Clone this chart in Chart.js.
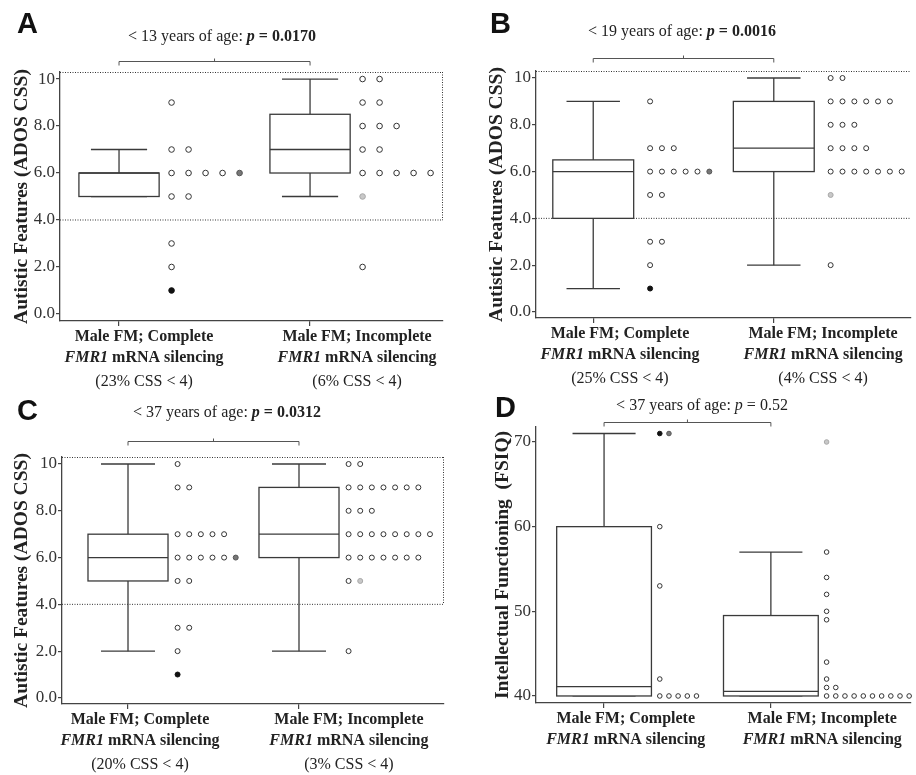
<!DOCTYPE html>
<html>
<head>
<meta charset="utf-8">
<script src="https://cdn.jsdelivr.net/npm/chart.js@4.4.1/dist/chart.umd.min.js"></script>
<style>
  html, body { margin: 0; padding: 0; background: #fff; }
  #wrap { position: relative; width: 916px; height: 775px; overflow: hidden; }
  canvas { position: absolute; }
</style>
</head>
<body>
<div id="wrap">
  <canvas id="chart-a" width="458" height="395" style="left:0;top:0"></canvas>
  <canvas id="chart-b" width="458" height="395" style="left:458px;top:0"></canvas>
  <canvas id="chart-c" width="458" height="395" style="left:0;top:380px"></canvas>
  <canvas id="chart-d" width="458" height="395" style="left:458px;top:380px"></canvas>
</div>
<script>
// Tick values
const cssTicks = [0, 2, 4, 6, 8, 10];
const iqTicks = [40, 50, 60, 70];
const cssCutoff = 4;

// Box stats per group: [whisker low, q1, median, q3, whisker high]
const boxA = [[5, 5, 6, 6, 7], [5, 6, 7, 8.5, 10]];
const boxB = [[1, 4, 6, 6.5, 9], [2, 6, 7, 9, 10]];
const boxC = [[2, 5, 6, 7, 10], [2, 6, 7, 9, 10]];
const boxD = [[40, 40, 41.1, 60, 71], [40, 40, 40.55, 49.5, 57]];

// Individual scores (open circles), one list per group
const dotsA = [
  [9, 7, 7, 6, 6, 6, 6, 5, 5, 3, 2],
  [10, 10, 9, 9, 8, 8, 8, 7, 7, 6, 6, 6, 6, 6, 2]
];
const dotsB = [
  [9, 7, 7, 7, 6, 6, 6, 6, 6, 5, 5, 3, 3, 2],
  [10, 10, 9, 9, 9, 9, 9, 9, 8, 8, 8, 7, 7, 7, 7, 6, 6, 6, 6, 6, 6, 6, 2]
];
const dotsC = [
  [10, 9, 9, 7, 7, 7, 7, 7, 6, 6, 6, 6, 6, 5, 5, 3, 3, 2],
  [10, 10, 9, 9, 9, 9, 9, 9, 9, 8, 8, 8, 7, 7, 7, 7, 7, 7, 7, 7, 6, 6, 6, 6, 6, 6, 6, 5, 2]
];
const dotsD = [
  [60, 53, 42, 40, 40, 40, 40, 40],
  [57, 54, 52, 50, 49, 44, 42, 41, 41, 40, 40, 40, 40, 40, 40, 40, 40, 40, 40]
];

// Shaded cases appended to their row: [group, value, kind]
const shadedA = [[0, 6, 'grey'], [0, 1, 'black'], [1, 5, 'light']];
const shadedB = [[0, 6, 'grey'], [0, 1, 'black'], [1, 5, 'light']];
const shadedC = [[0, 6, 'grey'], [0, 1, 'black'], [1, 5, 'light']];
const shadedD = [[0, 71, 'black'], [0, 71, 'grey'], [1, 70, 'light']];

const cssNotesA = ['(23% CSS < 4)', '(6% CSS < 4)'];
const cssNotesB = ['(25% CSS < 4)', '(4% CSS < 4)'];
const cssNotesC = ['(20% CSS < 4)', '(3% CSS < 4)'];

const SERIF = '"Liberation Serif", "Times New Roman", serif';
const DOT_COLORS = {
  open: { fill: '#ffffff', stroke: '#333333' },
  black: { fill: '#111111', stroke: '#111111' },
  grey: { fill: '#777777', stroke: '#555555' },
  light: { fill: '#c8c8c8', stroke: '#a8a8a8' }
};

// Build scatter datasets: equal values in a group are stacked sideways
function buildDots(dots, shaded, p) {
  return dots.map((vals, g) => {
    const all = vals.map(v => ({ v, kind: 'open' }));
    shaded.filter(s => s[0] === g).forEach(s => all.push({ v: s[1], kind: s[2] }));
    const seen = {};
    const data = [], fills = [], strokes = [];
    all.forEach(d => {
      const col = seen[d.v] || 0;
      seen[d.v] = col + 1;
      data.push({ x: g + 1 + p.dotOffset + col * p.dotStep, y: d.v });
      fills.push(DOT_COLORS[d.kind].fill);
      strokes.push(DOT_COLORS[d.kind].stroke);
    });
    return {
      data,
      pointRadius: p.dotRadius,
      pointBorderWidth: 1,
      pointBackgroundColor: fills,
      pointBorderColor: strokes,
      clip: false
    };
  });
}

function drawSegments(ctx, segs, cx, y, size) {
  let total = 0;
  segs.forEach(([t, style]) => {
    ctx.font = `${style} ${size}px ${SERIF}`;
    total += ctx.measureText(t).width;
  });
  let x = cx - total / 2;
  ctx.textAlign = 'left';
  ctx.textBaseline = 'middle';
  segs.forEach(([t, style]) => {
    ctx.font = `${style} ${size}px ${SERIF}`;
    ctx.fillText(t, x, y);
    x += ctx.measureText(t).width;
  });
}

function line(ctx, x1, y1, x2, y2) {
  ctx.beginPath();
  ctx.moveTo(x1, y1);
  ctx.lineTo(x2, y2);
  ctx.stroke();
}

// Boxes, whiskers, dotted cut-off region
function boxPlugin(p) {
  return {
    id: 'boxes',
    beforeDatasetsDraw(chart) {
      const { ctx, chartArea } = chart;
      const xs = chart.scales.x, ys = chart.scales.y;
      ctx.save();

      if (p.dotted) {
        ctx.strokeStyle = '#333';
        ctx.lineWidth = 1;
        ctx.setLineDash([1, 1.5]);
        const yCut = ys.getPixelForValue(cssCutoff);
        line(ctx, chartArea.left, chartArea.top + 0.5, chartArea.right, chartArea.top + 0.5);
        line(ctx, chartArea.left, yCut, chartArea.right, yCut);
        if (p.dottedRight) line(ctx, chartArea.right - 0.5, chartArea.top, chartArea.right - 0.5, yCut);
        ctx.setLineDash([]);
      }

      ctx.strokeStyle = '#3a3a3a';
      ctx.lineWidth = 1.3;
      p.boxes.forEach((b, i) => {
        const cx = xs.getPixelForValue(i + 1);
        const hw = xs.getPixelForValue(i + 1 + p.boxHalf) - cx;
        const cw = xs.getPixelForValue(i + 1 + p.capHalf) - cx;
        const [lo, q1, med, q3, hi] = b.map(v => ys.getPixelForValue(v));
        line(ctx, cx, q3, cx, hi);
        line(ctx, cx - cw, hi, cx + cw, hi);
        line(ctx, cx, q1, cx, lo);
        line(ctx, cx - cw, lo, cx + cw, lo);
        ctx.fillStyle = '#fff';
        ctx.fillRect(cx - hw, q3, hw * 2, q1 - q3);
        ctx.strokeRect(cx - hw, q3, hw * 2, q1 - q3);
        line(ctx, cx - hw, med, cx + hw, med);
      });
      ctx.restore();
    },
    afterDraw(chart) {
      const { ctx, chartArea } = chart;
      const xs = chart.scales.x;
      ctx.save();

      // panel letter
      ctx.fillStyle = '#111';
      ctx.font = 'bold 29px "Liberation Sans", Arial, sans-serif';
      ctx.textAlign = 'left';
      ctx.textBaseline = 'alphabetic';
      ctx.fillText(p.letter, p.letterX, p.letterY);

      // comparison title and bracket
      ctx.fillStyle = '#222';
      drawSegments(ctx, p.title, p.titleX, p.titleY, 16);
      const x1 = xs.getPixelForValue(1), x2 = xs.getPixelForValue(2);
      const xm = (x1 + x2) / 2, by = p.bracketY + 0.5;
      ctx.strokeStyle = '#555';
      ctx.lineWidth = 1;
      ctx.beginPath();
      ctx.moveTo(x1, by + 4);
      ctx.lineTo(x1, by);
      ctx.lineTo(x2, by);
      ctx.lineTo(x2, by + 4);
      ctx.stroke();
      line(ctx, xm, by, xm, by - 3);

      // group labels
      p.labelX.forEach((lx, i) => {
        const cx = xs.getPixelForValue(lx);
        const names = ['Male FM; Complete', 'Male FM; Incomplete'];
        drawSegments(ctx, [[names[i], 'bold']], cx, chartArea.bottom + 16, 16);
        drawSegments(ctx, [['FMR1', 'italic bold'], [' mRNA silencing', 'bold']], cx, chartArea.bottom + 37, 16);
        if (p.notes) drawSegments(ctx, [[p.notes[i], 'normal']], cx, chartArea.bottom + 61, 16);
      });
      ctx.restore();
    }
  };
}

function makeChart(id, p) {
  const canvas = document.getElementById(id);
  const W = canvas.width, H = canvas.height;
  return new Chart(canvas, {
    type: 'scatter',
    data: { datasets: buildDots(p.dots, p.shaded, p) },
    options: {
      responsive: false,
      animation: false,
      layout: { padding: { left: 0, top: p.area.top, right: W - p.area.right, bottom: 0 } },
      plugins: { legend: { display: false }, tooltip: { enabled: false } },
      scales: {
        x: {
          type: 'linear',
          min: p.xMin,
          max: p.xMax,
          afterFit: s => { s.height = H - p.area.bottom; },
          afterBuildTicks: s => { s.ticks = [{ value: 1 }, { value: 2 }]; },
          ticks: { callback: () => '' },
          grid: { drawOnChartArea: false, tickLength: 5, color: '#444', lineWidth: 1.2 },
          border: { color: '#444', width: 1.3 }
        },
        y: {
          type: 'linear',
          min: p.yMin,
          max: p.yMax,
          afterFit: s => { s.width = p.area.left; },
          afterBuildTicks: s => { s.ticks = p.ticks.map(v => ({ value: v })); },
          ticks: {
            callback: p.fmt,
            color: '#333',
            padding: 1,
            font: { family: SERIF, size: 17 }
          },
          grid: { drawOnChartArea: false, tickLength: 4, color: '#444', lineWidth: 1.2 },
          border: { color: '#444', width: 1.3 },
          title: {
            display: true,
            text: p.yTitle,
            color: '#222',
            font: { family: SERIF, size: 19.5, weight: 'bold' },
            padding: { top: p.yTitlePad, bottom: 0 }
          }
        }
      }
    },
    plugins: [boxPlugin(p)]
  });
}

const cssFmt = v => (v === 10 ? '10' : v.toFixed(1));

makeChart('chart-a', {
  letter: 'A', letterX: 17, letterY: 33,
  title: [['< 13 years of age: ', 'normal'], ['p', 'bold italic'], [' = 0.0170', 'bold']],
  titleX: 222, titleY: 37, bracketY: 61,
  area: { left: 60, top: 72, right: 443, bottom: 321 },
  xMin: 0.691, xMax: 2.696, yMin: -0.3, yMax: 10.3,
  ticks: cssTicks, fmt: cssFmt,
  yTitle: 'Autistic Features (ADOS CSS)', yTitlePad: 10,
  boxes: boxA, dots: dotsA, shaded: shadedA, notes: cssNotesA,
  boxHalf: 0.21, capHalf: 0.147, dotOffset: 0.275, dotStep: 0.089, dotRadius: 2.8,
  labelX: [1.131, 2.246], dotted: true, dottedRight: true
});

makeChart('chart-b', {
  letter: 'B', letterX: 32, letterY: 33,
  title: [['< 19 years of age: ', 'normal'], ['p', 'bold italic'], [' = 0.0016', 'bold']],
  titleX: 224, titleY: 32, bracketY: 58,
  area: { left: 78, top: 71, right: 458, bottom: 318 },
  xMin: 0.683, xMax: 2.76, yMin: -0.26, yMax: 10.3,
  ticks: cssTicks, fmt: cssFmt,
  yTitle: 'Autistic Features (ADOS CSS)', yTitlePad: 27,
  boxes: boxB, dots: dotsB, shaded: shadedB, notes: cssNotesB,
  boxHalf: 0.224, capHalf: 0.148, dotOffset: 0.315, dotStep: 0.0656, dotRadius: 2.5,
  labelX: [1.148, 2.273], dotted: true, dottedRight: false
});

makeChart('chart-c', {
  letter: 'C', letterX: 17, letterY: 40,
  title: [['< 37 years of age: ', 'normal'], ['p', 'bold italic'], [' = 0.0312', 'bold']],
  titleX: 227, titleY: 33, bracketY: 61,
  area: { left: 62, top: 77, right: 444, bottom: 324 },
  xMin: 0.614, xMax: 2.848, yMin: -0.26, yMax: 10.3,
  ticks: cssTicks, fmt: cssFmt,
  yTitle: 'Autistic Features (ADOS CSS)', yTitlePad: 10,
  boxes: boxC, dots: dotsC, shaded: shadedC, notes: cssNotesC,
  boxHalf: 0.234, capHalf: 0.158, dotOffset: 0.29, dotStep: 0.068, dotRadius: 2.5,
  labelX: [1.07, 2.292], dotted: true, dottedRight: true
});

makeChart('chart-d', {
  letter: 'D', letterX: 37, letterY: 37,
  title: [['< 37 years of age: ', 'normal'], ['p', 'italic'], [' = 0.52', 'normal']],
  titleX: 244, titleY: 26, bracketY: 42,
  area: { left: 78, top: 47, right: 458, bottom: 323 },
  xMin: 0.592, xMax: 2.84, yMin: 39.17, yMax: 71.77,
  ticks: iqTicks, fmt: v => String(v),
  yTitle: 'Intellectual Functioning  (FSIQ)', yTitlePad: 33,
  boxes: boxD, dots: dotsD, shaded: shadedD, notes: null,
  boxHalf: 0.284, capHalf: 0.189, dotOffset: 0.334, dotStep: 0.055, dotRadius: 2.3,
  labelX: [1.13, 2.308], dotted: false, dottedRight: false
});
</script>
</body>
</html>
